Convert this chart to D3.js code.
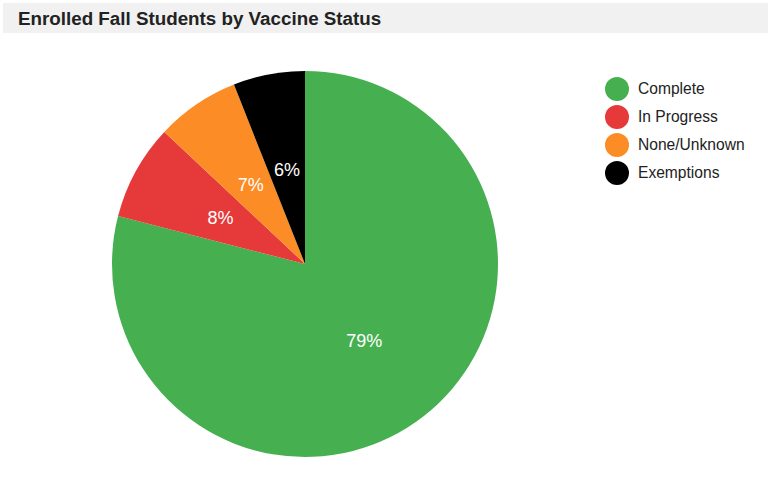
<!DOCTYPE html>
<html>
<head>
<meta charset="utf-8">
<script src="https://cdn.jsdelivr.net/npm/d3@7"></script>
<style>
  body { margin: 0; background: #fff; font-family: "Liberation Sans", Arial, sans-serif; }
</style>
</head>
<body>
<div id="chart"></div>
<script>
const categories = ['Complete', 'In Progress', 'None/Unknown', 'Exemptions'];
const percents = [79, 8, 7, 6];
const colors = ['#46b051', '#e6393a', '#fb8c26', '#000000'];
const title = 'Enrolled Fall Students by Vaccine Status';

const width = 768, height = 477;
const cx = 305, cy = 264, radius = 193;

const svg = d3.select('#chart').append('svg')
  .attr('width', width)
  .attr('height', height);

// title bar
svg.append('rect')
  .attr('x', 3).attr('y', 3)
  .attr('width', width - 3).attr('height', 30)
  .attr('fill', '#f1f1f1');

svg.append('text')
  .attr('x', 18).attr('y', 25)
  .attr('font-size', 18.8)
  .attr('font-weight', 'bold')
  .attr('fill', '#222')
  .text(title);

const rows = categories.map((c, i) => ({ name: c, value: percents[i], color: colors[i] }));

const pie = d3.pie().sort(null).value(d => d.value);
const arc = d3.arc().innerRadius(0).outerRadius(radius);

const g = svg.append('g').attr('transform', 'translate(' + cx + ',' + cy + ')');
const slices = g.selectAll('g.slice').data(pie(rows)).enter().append('g').attr('class', 'slice');

slices.append('path')
  .attr('d', arc)
  .attr('fill', d => d.data.color);

slices.append('text')
  .attr('transform', d => 'translate(' + arc.centroid(d) + ')')
  .attr('text-anchor', 'middle')
  .attr('dy', '0.36em')
  .attr('font-size', 18)
  .attr('fill', '#fff')
  .text(d => d.data.value + '%');

// legend
const legendY = d3.scalePoint().domain(categories).range([89, 173]);
const legend = svg.append('g');
const item = legend.selectAll('g').data(rows).enter().append('g')
  .attr('transform', d => 'translate(617,' + legendY(d.name) + ')');
item.append('circle').attr('r', 12).attr('fill', d => d.color);
item.append('text')
  .attr('x', 21).attr('dy', '0.35em')
  .attr('font-size', 15.6)
  .attr('fill', '#222')
  .text(d => d.name);
</script>
</body>
</html>
